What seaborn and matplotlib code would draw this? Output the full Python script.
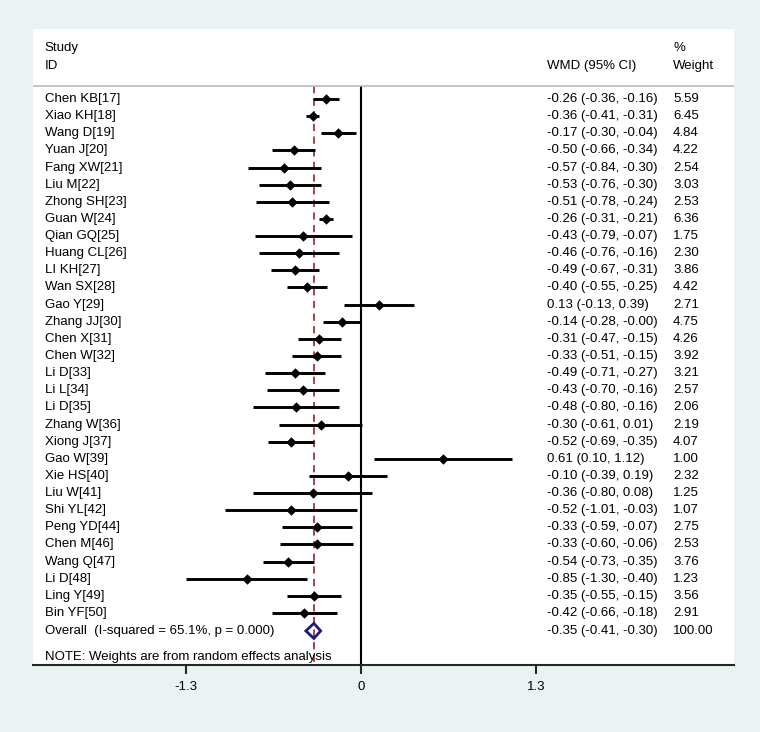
import pandas as pd
import matplotlib.pyplot as plt
import seaborn as sns
from matplotlib.patches import Polygon

studies = ["Chen KB[17]", "Xiao KH[18]", "Wang D[19]", "Yuan J[20]", "Fang XW[21]",
           "Liu M[22]", "Zhong SH[23]", "Guan W[24]", "Qian GQ[25]", "Huang CL[26]",
           "LI KH[27]", "Wan SX[28]", "Gao Y[29]", "Zhang JJ[30]", "Chen X[31]",
           "Chen W[32]", "Li D[33]", "Li L[34]", "Li D[35]", "Zhang W[36]",
           "Xiong J[37]", "Gao W[39]", "Xie HS[40]", "Liu W[41]", "Shi YL[42]",
           "Peng YD[44]", "Chen M[46]", "Wang Q[47]", "Li D[48]", "Ling Y[49]", "Bin YF[50]"]
wmd = [-0.26, -0.36, -0.17, -0.50, -0.57, -0.53, -0.51, -0.26, -0.43, -0.46,
       -0.49, -0.40, 0.13, -0.14, -0.31, -0.33, -0.49, -0.43, -0.48, -0.30,
       -0.52, 0.61, -0.10, -0.36, -0.52, -0.33, -0.33, -0.54, -0.85, -0.35, -0.42]
lower = [-0.36, -0.41, -0.30, -0.66, -0.84, -0.76, -0.78, -0.31, -0.79, -0.76,
         -0.67, -0.55, -0.13, -0.28, -0.47, -0.51, -0.71, -0.70, -0.80, -0.61,
         -0.69, 0.10, -0.39, -0.80, -1.01, -0.59, -0.60, -0.73, -1.30, -0.55, -0.66]
upper = [-0.16, -0.31, -0.04, -0.34, -0.30, -0.30, -0.24, -0.21, -0.07, -0.16,
         -0.31, -0.25, 0.39, -0.00, -0.15, -0.15, -0.27, -0.16, -0.16, 0.01,
         -0.35, 1.12, 0.19, 0.08, -0.03, -0.07, -0.06, -0.35, -0.40, -0.15, -0.18]
weight = ["5.59", "6.45", "4.84", "4.22", "2.54", "3.03", "2.53", "6.36", "1.75", "2.30",
          "3.86", "4.42", "2.71", "4.75", "4.26", "3.92", "3.21", "2.57", "2.06", "2.19",
          "4.07", "1.00", "2.32", "1.25", "1.07", "2.75", "2.53", "3.76", "1.23", "3.56", "2.91"]
overall = (-0.35, -0.41, -0.30)
overall_label = "Overall  (I-squared = 65.1%, p = 0.000)"
xticks = [-1.3, 0, 1.3]

df = pd.DataFrame({"study": studies, "wmd": wmd, "lower": lower, "upper": upper, "weight": weight})
df["row"] = range(len(df))

sns.set_style("white")
plt.rcParams["font.family"] = ["Liberation Sans", "DejaVu Sans"]
plt.rcParams["font.size"] = 9.5
plt.rcParams["text.color"] = "black"

fig = plt.figure(figsize=(7.6, 7.32), dpi=100, facecolor="#EAF2F3")
ax = fig.add_axes([33 / 760, 67 / 732, 701 / 760, 636 / 732])
ax.set_facecolor("white")

# CI lines + point estimates
ax.hlines(df["row"], df["lower"], df["upper"], color="black", lw=2.1, zorder=3)
sns.scatterplot(data=df, x="wmd", y="row", marker="D", s=24, color="black",
                edgecolor="black", ax=ax, zorder=4, legend=False)

# overall diamond
n = len(df)
orow = n + 0.05
est, lo, hi = overall
ax.add_patch(Polygon([(lo, orow), (est, orow - 0.44), (hi, orow), (est, orow + 0.44)],
                     closed=True, fill=False, edgecolor="#1A1A80", lw=2, zorder=5))

ax.set_xlim(-2.437, 2.771)
ax.set_ylim(33.04, -4.09)
top_line = -0.76
ax.vlines(0, top_line, 33.04, color="black", lw=1.5, zorder=2)
ax.vlines(est, top_line, 33.04, color="#A0343A", lw=1.3, linestyles=(0, (4, 3)), zorder=2)
ax.axhline(top_line, color="#BBBBBB", lw=1.2)

tr = ax.get_yaxis_transform()
for i, r in df.iterrows():
    ax.text(0.017, r["row"], r["study"], transform=tr, va="center", ha="left")
    ax.text(0.733, r["row"], f"{r['wmd']:.2f} ({r['lower']:.2f}, {r['upper']:.2f})",
            transform=tr, va="center", ha="left")
    ax.text(0.913, r["row"], r["weight"], transform=tr, va="center", ha="left")
ax.text(0.017, orow, overall_label, transform=tr, va="center", ha="left")
ax.text(0.733, orow, f"{est:.2f} ({lo:.2f}, {hi:.2f})", transform=tr, va="center", ha="left")
ax.text(0.913, orow, "100.00", transform=tr, va="center", ha="left")
ax.text(0.017, 32.55, "NOTE: Weights are from random effects analysis", transform=tr,
        va="center", ha="left")

ax.text(0.017, -2.98, "Study", transform=tr, va="center", ha="left")
ax.text(0.017, -1.93, "ID", transform=tr, va="center", ha="left")
ax.text(0.733, -1.93, "WMD (95% CI)", transform=tr, va="center", ha="left")
ax.text(0.913, -2.98, "%", transform=tr, va="center", ha="left")
ax.text(0.913, -1.93, "Weight", transform=tr, va="center", ha="left")

for s in ["top", "left", "right"]:
    ax.spines[s].set_visible(False)
ax.spines["bottom"].set_linewidth(1.5)
ax.set_xticks(xticks)
ax.set_xticklabels(["-1.3", "0", "1.3"])
ax.tick_params(axis="x", direction="out", length=6.5, width=1.5, bottom=True, pad=5,
               labelsize=9.5, labelcolor="black")
ax.set_yticks([])
ax.set_xlabel("")
ax.set_ylabel("")

fig.savefig("out.png", dpi=100, facecolor=fig.get_facecolor())
